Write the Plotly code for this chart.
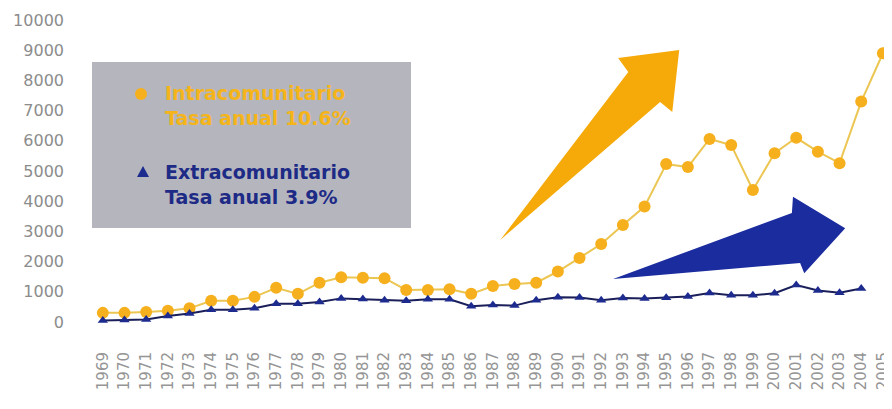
import plotly.graph_objects as go

years = list(range(1969, 2006))
intra = [300, 300, 330, 370, 450, 700, 700, 830, 1130, 930, 1300, 1480, 1460, 1450,
         1060, 1060, 1080, 930, 1190, 1260, 1300, 1670, 2120, 2580, 3210, 3820,
         5230, 5130, 6060, 5860, 4370, 5590, 6100, 5640, 5260, 7300, 8900]
extra_years = list(range(1969, 2005))
extra = [50, 60, 80, 200, 280, 400, 400, 450, 600, 600, 660, 780, 760, 720, 700, 750,
         750, 520, 560, 540, 720, 820, 810, 720, 790, 780, 800, 840, 960, 880, 880,
         950, 1220, 1040, 970, 1110]
tick_labels = [str(y) for y in years]
y_ticks = list(range(0, 10001, 1000))

ORANGE = "#f6b01e"
ORANGE_LINE = "#ecc652"
BLUE = "#1d2b8f"
BLUE_LINE = "#1a1f5a"

fig = go.Figure()
fig.add_trace(go.Scatter(x=years, y=intra, mode="lines+markers", name="Intracomunitario",
                         line=dict(color=ORANGE_LINE, width=2),
                         marker=dict(color=ORANGE, size=12, symbol="circle"),
                         cliponaxis=False))
fig.add_trace(go.Scatter(x=extra_years, y=extra, mode="lines+markers", name="Extracomunitario",
                         line=dict(color=BLUE_LINE, width=2),
                         marker=dict(color=BLUE, size=9, symbol="triangle-up"),
                         cliponaxis=False))

# decorative arrows (data coordinates)
orange_arrow = [(1987.34, 2715), (1993.25, 8278), (1992.78, 8742), (1995.6, 9007),
                (1995.28, 6954), (1994.72, 7285)]
blue_arrow = [(1992.55, 1424), (2000.8, 3609), (2000.85, 4149), (2003.26, 3103),
              (2001.37, 1613), (2001.18, 1954)]

def poly(pts):
    return "M " + " L ".join(f"{x},{y}" for x, y in pts) + " Z"

fig.add_shape(type="path", path=poly(orange_arrow), xref="x", yref="y",
              fillcolor="#f5aa0a", line=dict(width=0), layer="below")
fig.add_shape(type="path", path=poly(blue_arrow), xref="x", yref="y",
              fillcolor="#1b2c9e", line=dict(width=0), layer="below")

# page pixel -> paper fraction (plot area spans page x 92..892, y 11..334)
def px(xp):
    return (xp - 92) / 800

def py(yp):
    return (334 - yp) / 323

# legend box
fig.add_shape(type="rect", xref="paper", yref="paper",
              x0=px(92), x1=px(411), y0=py(228), y1=py(62),
              fillcolor="#b5b6bd", line=dict(width=0), layer="below")
# legend symbols
fig.add_shape(type="circle", xref="paper", yref="paper", xsizemode="pixel", ysizemode="pixel",
              xanchor=px(141), yanchor=py(94), x0=-6, x1=6, y0=-6, y1=6,
              fillcolor=ORANGE, line=dict(width=0))
fig.add_shape(type="path", xref="paper", yref="paper", xsizemode="pixel", ysizemode="pixel",
              xanchor=px(143), yanchor=py(172), path="M -6,-5 L 6,-5 L 0,6 Z",
              fillcolor=BLUE, line=dict(width=0))

LEG_FONT = "DejaVu Sans"
fig.add_annotation(xref="paper", yref="paper", x=px(163), y=py(106), xanchor="left",
                   yanchor="middle", align="left", showarrow=False,
                   text="<b>Intracomunitario<br>Tasa anual 10.6%</b>",
                   font=dict(color="#f4b41a", size=19, family=LEG_FONT))
fig.add_annotation(xref="paper", yref="paper", x=px(163), y=py(184), xanchor="left",
                   yanchor="middle", align="left", showarrow=False,
                   text="<b>Extracomunitario<br>Tasa anual 3.9%</b>",
                   font=dict(color="#1d2a86", size=19, family=LEG_FONT))

# the page body adds an 8 px offset, so the figure is drawn 8 px smaller
fig.update_layout(
    width=884, height=401,
    margin=dict(l=84, r=0, t=3, b=75),
    paper_bgcolor="white", plot_bgcolor="white",
    showlegend=False,
    xaxis=dict(range=[1968.5, 2005.42], tickvals=years, ticktext=tick_labels,
               tickangle=-90, showgrid=False, zeroline=False, showline=False,
               automargin=False,
               tickfont=dict(color="#959595", size=15, family="DejaVu Sans"),
               ticklabelstandoff=14),
    yaxis=dict(range=[-400, 10300], tickvals=y_ticks, ticktext=[str(v) for v in y_ticks],
               showgrid=False, zeroline=False, showline=False,
               automargin=False,
               tickfont=dict(color="#8c8c8c", size=16, family="DejaVu Sans"),
               ticklabelstandoff=27),
)

fig.write_html("out.html")
